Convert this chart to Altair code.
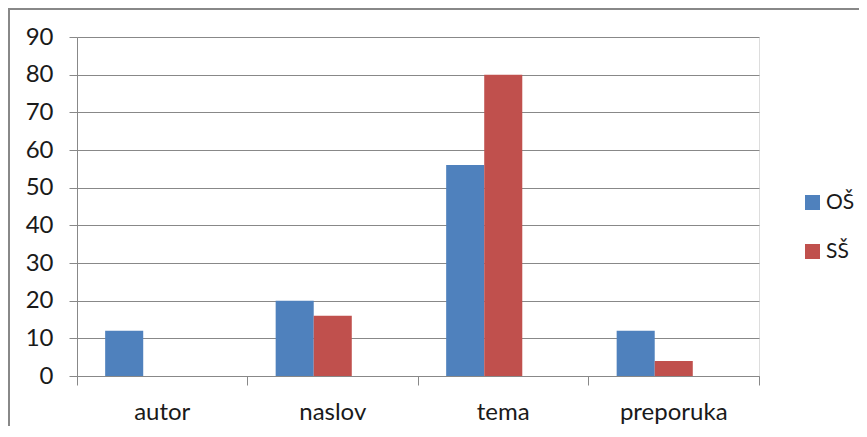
import altair as alt
import pandas as pd

categories = ["autor", "naslov", "tema", "preporuka"]
series = ["OŠ", "SŠ"]
os_values = [12, 20, 56, 12]
ss_values = [0, 16, 80, 4]
colors = ["#4F81BD", "#C0504D"]
y_ticks = [0, 10, 20, 30, 40, 50, 60, 70, 80, 90]

rows = []
for c, a, b in zip(categories, os_values, ss_values):
    rows.append({"kategorija": c, "skupina": series[0], "vrijednost": a})
    rows.append({"kategorija": c, "skupina": series[1], "vrijednost": b})
df = pd.DataFrame(rows)

W, H = 682, 339
FONT = "Lato"
GRAY = "#888888"

bars = alt.Chart(df).mark_bar().encode(
    x=alt.X(
        "kategorija:N",
        sort=categories,
        scale=alt.Scale(paddingInner=0, paddingOuter=0),
        axis=alt.Axis(
            title=None,
            labelAngle=0,
            bandPosition=1,
            tickExtra=True,
            tickSize=9,
            tickColor=GRAY,
            domainColor=GRAY,
            labelPadding=15,
            labelFontSize=24,
            labelFont=FONT,
            labelColor="#1a1a1a",
            grid=False,
        ),
    ),
    xOffset=alt.XOffset(
        "skupina:N",
        scale=alt.Scale(domain=series + ["_"], paddingInner=0, paddingOuter=0.74),
    ),
    y=alt.Y(
        "vrijednost:Q",
        scale=alt.Scale(domain=[0, 90], nice=False),
        axis=alt.Axis(
            title=None,
            values=y_ticks,
            grid=True,
            gridColor=GRAY,
            tickSize=8,
            tickColor=GRAY,
            domainColor=GRAY,
            labelPadding=16,
            labelFontSize=24,
            labelFont=FONT,
            labelColor="#1a1a1a",
        ),
    ),
    color=alt.Color(
        "skupina:N",
        scale=alt.Scale(domain=series, range=colors),
        legend=alt.Legend(
            title=None,
            orient="none",
            legendX=725,
            legendY=155,
            symbolType="square",
            symbolSize=225,
            symbolStrokeWidth=0,
            labelFontSize=21,
            labelFont=FONT,
            labelColor="#1a1a1a",
            labelOffset=3,
            rowPadding=27,
        ),
    ),
)

border_src = alt.Data(values=[{"k": 1}])
left_border = alt.Chart(border_src).mark_rule(color=GRAY, strokeWidth=2).encode(
    x=alt.value(-68), y=alt.value(-30), y2=alt.value(H + 80)
)
top_border = alt.Chart(border_src).mark_rule(color=GRAY, strokeWidth=2).encode(
    x=alt.value(-70), x2=alt.value(W + 120), y=alt.value(-28)
)

chart = (
    alt.layer(bars, left_border, top_border)
    .properties(
        width=W,
        height=H,
        autosize=alt.AutoSizeParams(type="none"),
        padding={"left": 69, "top": 29, "right": 100, "bottom": 50},
    )
    .configure_view(stroke=None)
    .configure(background="white")
)

chart.save("out.html", embed_options={"renderer": "svg", "actions": False})
